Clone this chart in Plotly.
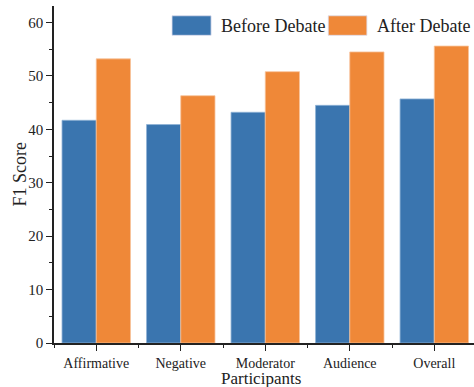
import plotly.graph_objects as go

categories = ["Affirmative", "Negative", "Moderator", "Audience", "Overall"]
before_debate = [41.7, 40.9, 43.2, 44.5, 45.7]
after_debate = [53.2, 46.3, 50.8, 54.5, 55.6]
series_names = ["Before Debate", "After Debate"]
colors = ["#3A75AF", "#EF8838"]
y_ticks = [0, 10, 20, 30, 40, 50, 60]

x_pos = list(range(len(categories)))
FONT = "Liberation Serif, Times New Roman, serif"

fig = go.Figure()
fig.add_trace(go.Bar(x=x_pos, y=before_debate, name=series_names[0],
                     marker=dict(color=colors[0], line=dict(color="#8fb3d6", width=0.8))))
fig.add_trace(go.Bar(x=x_pos, y=after_debate, name=series_names[1],
                     marker=dict(color=colors[1], line=dict(color="#f7c39b", width=0.8))))

fig.update_layout(
    width=474, height=387,
    margin=dict(l=54, r=0, t=6, b=44),
    barmode="group", bargap=0.19, bargroupgap=0,
    plot_bgcolor="white", paper_bgcolor="white",
    showlegend=False,
    font=dict(family=FONT, color="#222"),
)
fig.update_xaxes(
    range=[-0.5, 4.47],
    tickmode="array", tickvals=x_pos, ticktext=categories,
    ticks="outside", ticklen=6, tickwidth=1.2, tickcolor="#222",
    minor=dict(tickmode="linear", tick0=0.5, dtick=1, ticks="outside", ticklen=3, tickwidth=1.2, tickcolor="#222"),
    showline=True, linecolor="#222", linewidth=1.5,
    showgrid=False, zeroline=False,
    tickfont=dict(size=14, family=FONT, color="#222"),
    automargin=False,
)
fig.update_yaxes(
    range=[0, 63.1],
    tickmode="array", tickvals=y_ticks,
    ticks="outside", ticklen=6, tickwidth=1.2, tickcolor="#222",
    minor=dict(tickmode="linear", tick0=5, dtick=10, ticks="outside", ticklen=3, tickwidth=1.2, tickcolor="#222"),
    showline=True, linecolor="#222", linewidth=1.5,
    showgrid=False, zeroline=False,
    tickfont=dict(size=15, family=FONT, color="#222"),
    automargin=False,
)

# Axis titles
fig.add_annotation(xref="paper", yref="paper", x=(19 - 54) / 420, y=0.5, text="F1 Score",
                   textangle=-90, showarrow=False, xanchor="center", yanchor="middle",
                   font=dict(size=18, family=FONT, color="#222"))
fig.add_annotation(xref="paper", yref="paper", x=(261 - 54) / 420, y=-(378 - 343) / 337, text="Participants",
                   showarrow=False, xanchor="center", yanchor="middle",
                   font=dict(size=17, family=FONT, color="#222"))

# Custom legend (wide swatches)
legend_items = [(0.2810, 0.3740, series_names[0], colors[0]), (0.6530, 0.7450, series_names[1], colors[1])]
for x0, x1, name, col in legend_items:
    fig.add_shape(type="rect", xref="paper", yref="paper", x0=x0, x1=x1,
                  y0=0.913, y1=0.971, fillcolor=col, line=dict(width=0.8, color="#dde"))
    fig.add_annotation(xref="paper", yref="paper", x=x1 + 0.02, y=0.942, text=name,
                       showarrow=False, xanchor="left", yanchor="middle",
                       font=dict(size=18, family=FONT, color="#222"))

fig.write_html("out.html", config={"displayModeBar": False},
               post_script="document.body.style.margin='0px';")
